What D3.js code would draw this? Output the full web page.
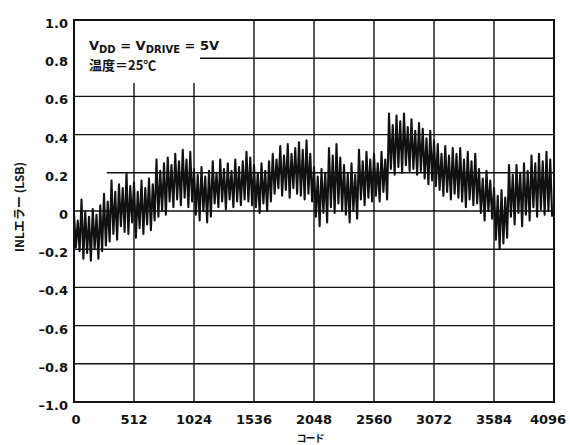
<!DOCTYPE html>
<html>
<head>
<meta charset="utf-8">
<script src="https://cdn.jsdelivr.net/npm/d3@7"></script>
<style>
  body { margin: 0; background: #fff; }
  text { fill: #111; }
</style>
</head>
<body>
<div id="plot"></div>
<script>
const width = 570;
const height = 445;
const margin = { top: 20, right: 16, bottom: 43, left: 74 };

// Axis ticks
const xTicks = [0, 512, 1024, 1536, 2048, 2560, 3072, 3584, 4096];
const yTicks = [-1.0, -0.8, -0.6, -0.4, -0.2, 0, 0.2, 0.4, 0.6, 0.8, 1.0];
const yTickLabels = ["\u20131.0", "\u20130.8", "\u20130.6", "\u20130.4", "\u20130.2", "0", "0.2", "0.4", "0.6", "0.8", "1.0"];

// INL trace, one stroke every 32 codes: peak and trough of each stroke (LSB)
const strokeStep = 32;
const strokeHi = [
  -0.02, -0.05, 0.06, 0.00, -0.03, 0.01, -0.02, 0.03, 0.09, 0.05,
  0.16, 0.10, 0.14, 0.12, 0.20, 0.13, 0.15, 0.10, 0.16, 0.12,
  0.17, 0.14, 0.27, 0.21, 0.25, 0.28, 0.24, 0.30, 0.26, 0.32,
  0.27, 0.31, 0.22, 0.19, 0.23, 0.18, 0.21, 0.26, 0.20, 0.27,
  0.22, 0.25, 0.21, 0.27, 0.23, 0.26, 0.31, 0.28, 0.24, 0.20,
  0.25, 0.21, 0.26, 0.30, 0.27, 0.34, 0.29, 0.35, 0.30, 0.33,
  0.36, 0.32, 0.37, 0.30, 0.23, 0.18, 0.22, 0.20, 0.33, 0.29,
  0.35, 0.28, 0.24, 0.20, 0.25, 0.19, 0.32, 0.26, 0.31, 0.27,
  0.30, 0.25, 0.31, 0.27, 0.51, 0.45, 0.50, 0.47, 0.51, 0.44,
  0.48, 0.42, 0.46, 0.43, 0.38, 0.42, 0.37, 0.35, 0.30, 0.34,
  0.29, 0.33, 0.30, 0.33, 0.27, 0.31, 0.26, 0.30, 0.22, 0.17,
  0.21, 0.16, 0.12, 0.08, 0.11, 0.07, 0.24, 0.19, 0.24, 0.20,
  0.25, 0.21, 0.29, 0.25, 0.30, 0.26, 0.31, 0.27
];
const strokeLo = [
  -0.19, -0.21, -0.25, -0.22, -0.26, -0.20, -0.25, -0.21, -0.18, -0.16,
  -0.12, -0.15, -0.08, -0.11, -0.12, -0.06, -0.14, -0.09, -0.12, -0.07,
  -0.10, -0.05, -0.03, 0.00, -0.02, 0.05, 0.02, 0.06, 0.03, 0.07,
  0.02, 0.05, -0.02, -0.05, 0.00, -0.06, -0.03, 0.04, 0.02, 0.05,
  0.01, 0.06, 0.02, 0.05, 0.03, 0.06, 0.05, 0.03, 0.02, -0.01,
  0.04, 0.00, 0.05, 0.09, 0.12, 0.08, 0.11, 0.07, 0.12, 0.09,
  0.08, 0.06, 0.09, 0.05, -0.03, -0.08, -0.01, -0.06, 0.02, -0.01,
  0.04, 0.00, -0.02, -0.06, 0.00, -0.04, 0.06, 0.03, 0.07, 0.05,
  0.08, 0.05, 0.10, 0.06, 0.22, 0.19, 0.23, 0.20, 0.24, 0.21,
  0.22, 0.19, 0.21, 0.17, 0.14, 0.16, 0.13, 0.11, 0.08, 0.10,
  0.06, 0.09, 0.07, 0.05, 0.02, 0.06, 0.03, 0.04, -0.01, -0.05,
  0.00, -0.04, -0.15, -0.20, -0.17, -0.14, -0.03, -0.07, -0.01, -0.08,
  -0.02, -0.05, 0.02, -0.03, 0.01, -0.02, 0.00, -0.03
];

const svg = d3.select("#plot").append("svg").attr("width", width).attr("height", height);

const x = d3.scaleLinear().domain([0, 4096]).range([margin.left, width - margin.right]);
const y = d3.scaleLinear().domain([-1, 1]).range([height - margin.bottom, margin.top]);

const numFont = "'DejaVu Sans', sans-serif";
const cjkFont = "'Noto Sans CJK JP', sans-serif";

// Grid
svg.append("g").selectAll("line").data(xTicks.slice(1, -1)).enter()
  .append("line")
  .attr("x1", d => x(d)).attr("x2", d => x(d))
  .attr("y1", y(-1)).attr("y2", y(1))
  .attr("stroke", "#111").attr("stroke-width", 1.4);

svg.append("g").selectAll("line").data(yTicks.slice(1, -1)).enter()
  .append("line")
  .attr("x1", d => d === 0.2 ? x(280) : x(0)) // the 0.2 rule starts a bit in
  .attr("x2", x(4096))
  .attr("y1", d => y(d)).attr("y2", d => y(d))
  .attr("stroke", "#111").attr("stroke-width", 1.4);

// Blank area behind the condition note
svg.append("rect").attr("x", x(0)).attr("y", y(1))
  .attr("width", x(1075) - x(0)).attr("height", y(0.67) - y(1)).attr("fill", "#fff");
svg.append("rect").attr("x", x(0)).attr("y", y(1))
  .attr("width", x(1510) - x(0)).attr("height", y(0.83) - y(1)).attr("fill", "#fff");

// INL trace
const points = [];
strokeHi.forEach((hi, i) => {
  points.push({ code: i * strokeStep, v: hi });
  points.push({ code: i * strokeStep + strokeStep / 2, v: strokeLo[i] });
});

const line = d3.line().x(d => x(d.code)).y(d => y(d.v));
svg.append("path")
  .datum(points)
  .attr("d", line)
  .attr("fill", "none")
  .attr("stroke", "#111")
  .attr("stroke-width", 2.1)
  .attr("stroke-linejoin", "round");

// Frame
svg.append("rect")
  .attr("x", x(0)).attr("y", y(1))
  .attr("width", x(4096) - x(0)).attr("height", y(-1) - y(1))
  .attr("fill", "none").attr("stroke", "#111").attr("stroke-width", 2);

// Tick labels
svg.append("g").selectAll("text").data(yTicks).enter()
  .append("text")
  .attr("x", x(0) - 6)
  .attr("y", d => y(d) + 8)
  .attr("text-anchor", "end")
  .attr("font-family", numFont).attr("font-weight", "bold").attr("font-size", 13)
  .text((d, i) => yTickLabels[i]);

svg.append("g").selectAll("text").data(xTicks).enter()
  .append("text")
  .attr("x", d => x(d) + (d === 0 ? 2 : d === 4096 ? -6 : 0))
  .attr("y", y(-1) + 22)
  .attr("text-anchor", "middle")
  .attr("font-family", numFont).attr("font-weight", "bold").attr("font-size", 13)
  .text(d => d);

// Axis titles
svg.append("text")
  .attr("transform", `translate(24, ${(y(1) + y(-1)) / 2 - 4}) rotate(-90)`)
  .attr("text-anchor", "middle")
  .attr("font-family", cjkFont).attr("font-weight", "bold").attr("font-size", 12)
  .text("INLエラー (LSB)");

svg.append("text")
  .attr("x", (x(0) + x(4096)) / 2 - 4)
  .attr("y", height - 3)
  .attr("text-anchor", "middle")
  .attr("font-family", cjkFont).attr("font-weight", "bold").attr("font-size", 10)
  .attr("letter-spacing", -1)
  .text("コード");

// Condition note
const note = svg.append("text")
  .attr("x", x(0) + 15).attr("y", y(1) + 30)
  .attr("font-family", numFont).attr("font-weight", "bold").attr("font-size", 13);
note.append("tspan").text("V");
note.append("tspan").attr("font-size", 10).attr("dy", 3).text("DD");
note.append("tspan").attr("dy", -3).text(" = V");
note.append("tspan").attr("font-size", 10).attr("dy", 3).text("DRIVE");
note.append("tspan").attr("dy", -3).text(" = 5V");

svg.append("text")
  .attr("x", x(0) + 15).attr("y", y(1) + 50)
  .attr("font-family", cjkFont).attr("font-weight", "bold").attr("font-size", 13)
  .text("温度＝25℃");
</script>
</body>
</html>
